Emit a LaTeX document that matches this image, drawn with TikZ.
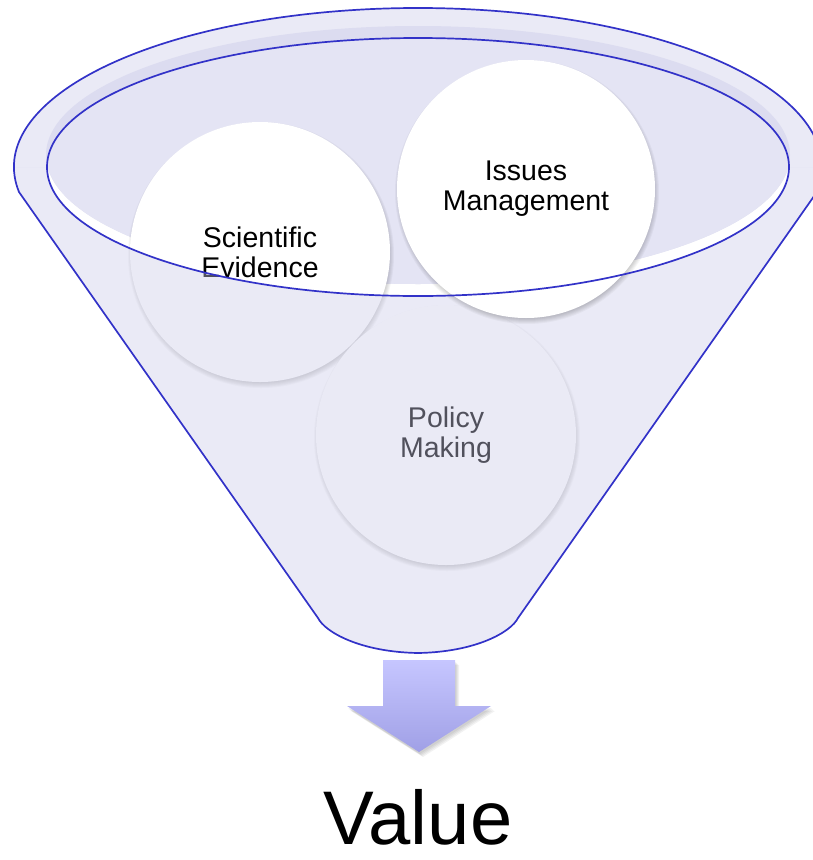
\documentclass[tikz,border=0pt]{standalone}
\usepackage{fontspec}
\setmainfont{Liberation Sans}
\definecolor{rim}{RGB}{234,234,246}
\definecolor{band}{RGB}{220,220,240}
\definecolor{bowl}{RGB}{228,228,244}
\definecolor{veil}{RGB}{203,203,232}
\definecolor{edge}{RGB}{50,50,200}
\definecolor{arrtop}{RGB}{198,198,255}
\definecolor{arrbot}{RGB}{160,160,230}
\tikzset{
  orb/.style={circle, fill=white, minimum size=#1, inner sep=0pt, align=center,
    font=\fontsize{28.5}{30}\selectfont},
  outline/.style={draw=edge, line width=1.7pt},
}
\newcommand{\orbshadow}[3]{%
  \foreach \k in {0,...,5}{\fill[black,opacity=0.035] (#1+1,#2-3) circle[radius=#3+3-\k];}}
\begin{document}
\begin{tikzpicture}[x=1pt,y=1pt]
\useasboundingbox (0,0) rectangle (812,-860);
% rim (upper half of the funnel mouth)
\fill[rim] (14,-167) arc[start angle=180,end angle=0,x radius=404,y radius=159] -- cycle;
% bowl
\fill[white] (418,-167) ellipse[x radius=371,y radius=129];
\fill[band] (418,-155) ellipse[x radius=372,y radius=129];
\begin{scope}
  \clip (418,-167) ellipse[x radius=371,y radius=129];
  \fill[bowl] (418,-155) ellipse[x radius=372,y radius=129];
\end{scope}
% circles behind the front face
\orbshadow{260}{-252}{130}
\node[orb=260pt] (sci) at (260,-252) {Scientific\\Evidence};
\orbshadow{446}{-435}{130}
\node[orb=260pt] (pol) at (446,-435) {Policy\\Making};
% front face of the funnel
\fill[veil,opacity=0.4] (14,-167) -- (47,-167)
  arc[start angle=180,end angle=360,x radius=371,y radius=129]
  -- (822,-167) arc[start angle=0,end angle=-9.05,x radius=404,y radius=159]
  -- (518,-618) .. controls (511,-632) and (476,-652) .. (418,-653)
  .. controls (360,-652) and (325,-632) .. (318,-618)
  -- (19,-192) arc[start angle=189.05,end angle=180,x radius=404,y radius=159] -- cycle;
% circle in front
\orbshadow{526}{-189}{129}
\node[orb=258pt] (iss) at (526,-189) {Issues\\Management};
% outlines
\draw[outline] (418,-167) ellipse[x radius=371,y radius=129];
\draw[outline] (19,-192) arc[start angle=189.05,end angle=-9.05,x radius=404,y radius=159]
  -- (518,-618) .. controls (511,-632) and (476,-652) .. (418,-653)
  .. controls (360,-652) and (325,-632) .. (318,-618) -- cycle;
% arrow
\foreach \s in {1,2,3,4}{
  \fill[black,opacity=0.05,shift={(\s,-\s-1)}] (383,-660) -- (455,-660) -- (455,-706)
    -- (491,-706) -- (419,-752) -- (347,-706) -- (383,-706) -- cycle;}
\shade[top color=arrtop,bottom color=arrbot] (383,-660) -- (455,-660) -- (455,-706)
    -- (491,-706) -- (419,-752) -- (347,-706) -- (383,-706) -- cycle;
\node[anchor=base,inner sep=0pt,font=\fontsize{76}{84}\selectfont] (val) at (418,-844) {Value};
\end{tikzpicture}
\end{document}
